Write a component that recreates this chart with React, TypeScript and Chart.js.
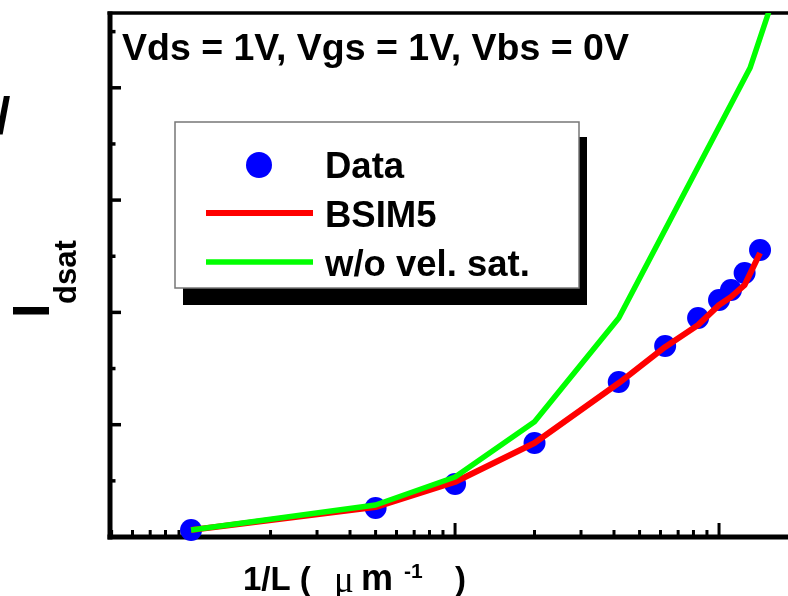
import React, { useEffect, useRef } from "react";
import { Chart, registerables } from "chart.js";

Chart.register(...registerables);

// ---- data ----
const invL = [0.1, 0.5, 1, 2, 4.17, 6.25, 8.33, 10, 11.1, 12.5, 14.3];
const measured = [0.062, 0.258, 0.472, 0.837, 1.38, 1.701, 1.95, 2.11, 2.2, 2.351, 2.556];
const bsim5 = [0.062, 0.267, 0.49, 0.837, 1.371, 1.692, 1.888, 2.066, 2.137, 2.244, 2.529];
const greenX = [0.1, 0.5, 1, 2, 4.17, 13.1, 16.5];
const noVelSat = [0.062, 0.285, 0.534, 1.027, 1.95, 4.176, 4.88];
const seriesLabels = ["Data", "BSIM5", "w/o vel. sat."];
const conditionText = "Vds = 1V, Vgs = 1V, Vbs = 0V";
const yTickValues = [0, 0.5, 1, 1.5, 2, 2.5, 3, 3.5, 4, 4.5];
const xMin = 0.0493;
const xMax = 18.25;
const yMin = 0;
const yMax = 4.666;

const SANS = '"Liberation Sans", Arial, sans-serif';
const SERIF = '"Liberation Serif", "Times New Roman", serif';

const framePlugin = {
  id: "frame",
  beforeDatasetsDraw(chart: any) {
    const { ctx, chartArea: a, scales } = chart;
    const x = scales.x;
    const y = scales.y;
    ctx.save();
    ctx.strokeStyle = "#000";
    ctx.lineCap = "butt";
    // y ticks (inward)
    ctx.lineWidth = 3.5;
    for (const v of yTickValues) {
      const py = y.getPixelForValue(v);
      const major = Math.abs(v - Math.round(v)) < 1e-6;
      ctx.beginPath();
      ctx.moveTo(a.left, py);
      ctx.lineTo(a.left + (major ? 11 : 5.5), py);
      ctx.stroke();
    }
    // x ticks (inward, log)
    ctx.lineWidth = 3;
    for (let e = -2; e <= 1; e++) {
      for (let k = 1; k <= 9; k++) {
        const v = k * Math.pow(10, e);
        if (v < xMin || v > xMax) continue;
        const px = x.getPixelForValue(v);
        ctx.beginPath();
        ctx.moveTo(px, a.bottom);
        ctx.lineTo(px, a.bottom - (k === 1 ? 14 : 7));
        ctx.stroke();
      }
    }
    // axes
    ctx.lineWidth = 5;
    ctx.beginPath();
    ctx.moveTo(a.left, a.top - 1.5);
    ctx.lineTo(a.left, a.bottom + 2.5);
    ctx.stroke();
    ctx.beginPath();
    ctx.moveTo(a.left - 2.5, a.bottom);
    ctx.lineTo(a.right, a.bottom);
    ctx.stroke();
    ctx.lineWidth = 3.5;
    ctx.beginPath();
    ctx.moveTo(a.left - 2.5, a.top);
    ctx.lineTo(a.right, a.top);
    ctx.stroke();
    ctx.restore();
  },
  afterDraw(chart: any) {
    const { ctx } = chart;
    const ds = chart.data.datasets;
    ctx.save();
    ctx.fillStyle = "#000";
    ctx.textAlign = "left";
    ctx.textBaseline = "alphabetic";

    // condition text
    ctx.font = `bold 37.5px ${SANS}`;
    ctx.fillText(conditionText, 122, 60);

    // legend
    ctx.fillStyle = "#000";
    ctx.fillRect(183, 137, 404, 168);
    ctx.fillStyle = "#fff";
    ctx.fillRect(175, 122, 404, 166);
    ctx.strokeStyle = "#777";
    ctx.lineWidth = 1.5;
    ctx.strokeRect(175, 122, 404, 166);

    const dataDs = ds.find((d: any) => d.label === seriesLabels[0]);
    const redDs = ds.find((d: any) => d.label === seriesLabels[1]);
    const greenDs = ds.find((d: any) => d.label === seriesLabels[2]);

    ctx.fillStyle = dataDs.pointBackgroundColor;
    ctx.beginPath();
    ctx.arc(259, 165, 13, 0, Math.PI * 2);
    ctx.fill();

    ctx.lineCap = "butt";
    ctx.strokeStyle = redDs.borderColor;
    ctx.lineWidth = 6;
    ctx.beginPath();
    ctx.moveTo(206, 213);
    ctx.lineTo(313, 213);
    ctx.stroke();

    ctx.strokeStyle = greenDs.borderColor;
    ctx.lineWidth = 5.5;
    ctx.beginPath();
    ctx.moveTo(206, 262);
    ctx.lineTo(313, 262);
    ctx.stroke();

    ctx.fillStyle = "#000";
    ctx.font = `bold 36.5px ${SANS}`;
    ctx.fillText(seriesLabels[0], 325, 178);
    ctx.fillText(seriesLabels[1], 325, 227);
    ctx.fillText(seriesLabels[2], 325, 276);

    // x-axis title: 1/L ( μ m-1 )
    ctx.font = `bold 33px ${SANS}`;
    ctx.fillText("1/L (", 243, 590);
    ctx.font = `37px ${SERIF}`;
    ctx.fillText("\u03bc", 334, 592);
    ctx.font = `bold 36px ${SANS}`;
    ctx.fillText("m", 361, 590);
    ctx.font = `bold 21px ${SANS}`;
    ctx.fillText("-1", 404, 578);
    ctx.font = `bold 33px ${SANS}`;
    ctx.fillText(")", 455, 590);

    // y-axis title fragment: I_dsat (rotated)
    ctx.save();
    ctx.translate(49, 318);
    ctx.rotate(-Math.PI / 2);
    ctx.font = `bold 52px ${SANS}`;
    ctx.fillText("I", 0, 0);
    ctx.restore();
    ctx.save();
    ctx.translate(76, 304);
    ctx.rotate(-Math.PI / 2);
    ctx.font = `bold 31px ${SANS}`;
    ctx.fillText("dsat", 0, 0);
    ctx.restore();
    ctx.font = `bold 52px ${SANS}`;
    ctx.fillText("/", -4, 134);

    ctx.restore();
  },
};

export default function App() {
  const ref = useRef<HTMLCanvasElement | null>(null);
  useEffect(() => {
    if (!ref.current) return;
    const chart = new Chart(ref.current, {
      type: "line",
      data: {
        datasets: [
          {
            label: seriesLabels[2],
            data: greenX.map((v, i) => ({ x: v, y: noVelSat[i] })),
            borderColor: "#00ff00",
            backgroundColor: "#00ff00",
            borderWidth: 5.5,
            pointRadius: 0,
            borderJoinStyle: "round",
            order: 0,
          },
          {
            label: seriesLabels[1],
            data: invL.map((v, i) => ({ x: v, y: bsim5[i] })),
            borderColor: "#ff0000",
            backgroundColor: "#ff0000",
            borderWidth: 6,
            pointRadius: 0,
            borderJoinStyle: "round",
            order: 1,
          },
          {
            label: seriesLabels[0],
            data: invL.map((v, i) => ({ x: v, y: measured[i] })),
            showLine: false,
            pointRadius: 11,
            pointBorderWidth: 0,
            pointBackgroundColor: "#0000ff",
            pointBorderColor: "#0000ff",
            borderColor: "#0000ff",
            clip: false,
            order: 2,
          },
        ],
      } as any,
      options: {
        animation: false,
        responsive: false,
        maintainAspectRatio: false,
        layout: { autoPadding: false, padding: { left: 110, top: 13, right: 0, bottom: 59 } },
        plugins: {
          legend: { display: false },
          tooltip: { enabled: false },
          title: { display: false },
        },
        events: [],
        scales: {
          x: { type: "logarithmic", min: xMin, max: xMax, display: false },
          y: { type: "linear", min: yMin, max: yMax, display: false },
        },
      } as any,
      plugins: [framePlugin],
    });
    return () => chart.destroy();
  }, []);
  return (
    <div style={{ position: "fixed", left: 0, top: 0, width: 788, height: 596, background: "#fff" }}>
      <canvas ref={ref} width={788} height={596} style={{ display: "block", width: 788, height: 596 }} />
    </div>
  );
}
